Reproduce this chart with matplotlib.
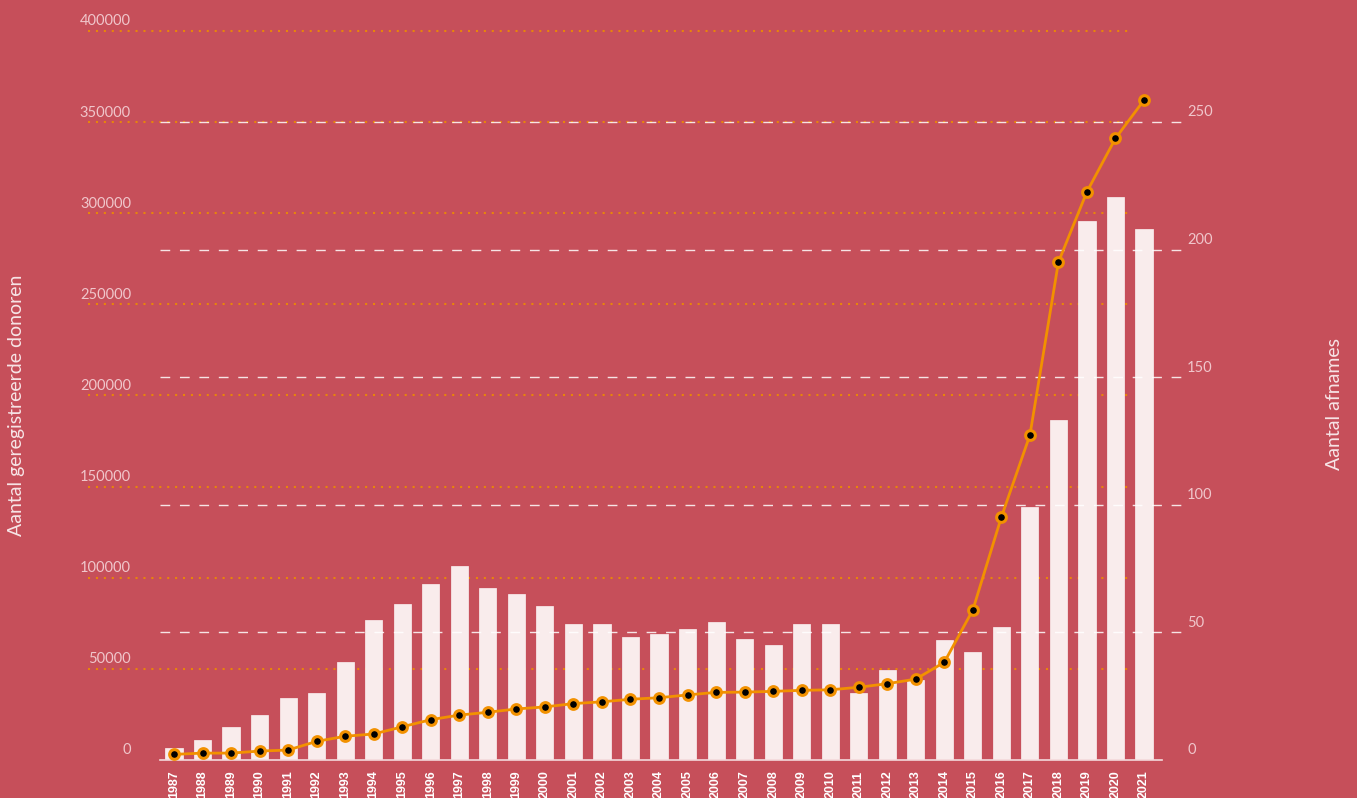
import matplotlib
matplotlib.use("Agg")
import matplotlib.pyplot as plt
from matplotlib.transforms import blended_transform_factory, offset_copy

years = list(range(1987, 2022))
donors = [6500, 11000, 18100, 24700, 34000, 36800, 53800, 76800, 85600, 96600,
          106500, 94400, 91100, 84500, 74600, 74600, 67500, 69100, 71900, 75700,
          66400, 63100, 74600, 74600, 36800, 49400, 43900, 65900, 59300, 73000,
          138900, 186600, 295800, 309000, 291400]
afnames = [2.2, 2.7, 2.7, 3.5, 3.9, 7.3, 9.3, 10.2, 13.0, 15.8,
           17.6, 18.7, 20.0, 20.8, 22.1, 22.8, 23.8, 24.4, 25.5, 26.5,
           26.6, 26.9, 27.3, 27.5, 28.5, 29.9, 31.7, 38.3, 58.8, 95.2,
           127.3, 195.1, 222.7, 243.6, 258.6]
left_ticks = [0, 50000, 100000, 150000, 200000, 250000, 300000, 350000, 400000]
right_ticks = [0, 50, 100, 150, 200, 250]
left_title = "Aantal geregistreerde donoren"
right_title = "Aantal afnames"

BG = "#C64F5A"
BAR = "#F9ECEC"
ORANGE = "#F29100"
GRID_OR = "#E8850A"
LABEL = "#F0C6CB"

W, H = 1357, 798
fig = plt.figure(figsize=(W / 100, H / 100), dpi=100, facecolor=BG)
ax = fig.add_axes([160 / W, 1 - 760 / H, (1162 - 160) / W, (760 - 31) / H])
ax.set_facecolor("none")
ax2 = ax.twinx()

ax.set_xlim(1986.51, 2021.63)
ax.set_ylim(0, 400000)
ax2.set_ylim(0, 285.66)

# gridlines (extend beyond axes, drawn in figure x)
t_left = blended_transform_factory(fig.transFigure, ax.transData)
t_right = blended_transform_factory(fig.transFigure, ax2.transData)
for v in left_ticks:
    if v > 0:
        ax.plot([88 / W, 1130 / W], [v, v], transform=t_left, color=GRID_OR,
                lw=1.5, ls=(0, (1, 2.8)), clip_on=False, zorder=1)
    ax.text(131 / W, v, str(v), transform=offset_copy(t_left, fig=fig, y=4, units="points"),
            ha="right", va="baseline", color=LABEL, fontsize=10.5, family="Lato")
for v in right_ticks:
    if v > 0:
        ax2.plot([160 / W, 1185 / W], [v, v], transform=t_right, color="white",
                 alpha=0.85, lw=1, ls=(0, (7, 7)), clip_on=False, zorder=1)
    ax2.text(1187 / W, v, str(v), transform=offset_copy(t_right, fig=fig, y=4, units="points"),
             ha="left", va="baseline", color=LABEL, fontsize=10.5, family="Lato")

ax.bar(years, donors, width=0.6, color=BAR, edgecolor="#FBF3F3", linewidth=0.5, zorder=2)
ax2.plot(years, afnames, color=ORANGE, lw=2, marker="o", markersize=7,
         markerfacecolor="black", markeredgecolor=ORANGE, markeredgewidth=2.2, zorder=5,
         clip_on=False)

for a in (ax, ax2):
    for s in a.spines.values():
        s.set_visible(False)
    a.set_yticks([])
ax.spines["bottom"].set_visible(True)
ax.spines["bottom"].set_color("#F3D9DB")
ax.spines["bottom"].set_linewidth(1.2)
ax.set_xticks(years)
ax.set_xticklabels([str(y) for y in years], rotation=90, fontsize=9,
                   fontweight="bold", color="white", family="Liberation Sans")
ax.tick_params(axis="x", length=0, pad=7.5)
ax2.tick_params(axis="x", length=0, labelbottom=False, labeltop=False)

fig.text(17 / W, 1 - 405 / H, left_title, rotation=90, ha="center", va="center",
         color="#F7E4E6", fontsize=14, family="Lato")
fig.text(1335 / W, 1 - 404 / H, right_title, rotation=90, ha="center", va="center",
         color="#F7E4E6", fontsize=14, family="Lato")

fig.savefig("out.png", dpi=100, facecolor=BG)
